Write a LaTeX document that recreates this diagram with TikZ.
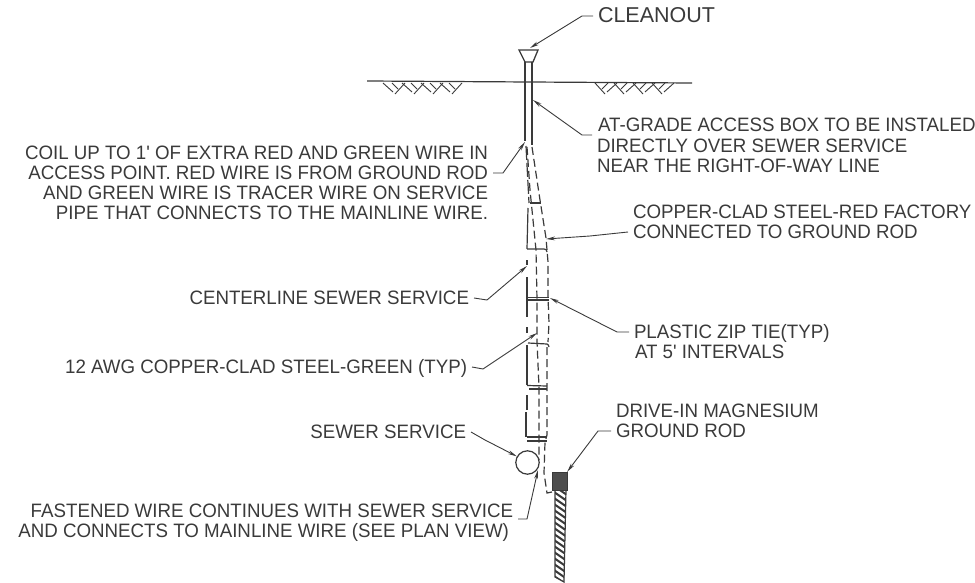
\documentclass[tikz,border=0pt]{standalone}
\usepackage{fontspec}
\newfontfamily\labfont[FakeStretch=0.965]{Liberation Sans}
\newfontfamily\bigfont{Liberation Sans}
\usetikzlibrary{arrows.meta}
\definecolor{ink}{HTML}{3A3A3A}
\tikzset{
  lab/.style={text=ink,font=\labfont\fontsize{19.4pt}{20pt}\selectfont,text height=13.4pt,text depth=0pt,inner xsep=5pt,inner ysep=0pt,outer sep=0pt},
  labw/.style={lab,anchor=west},
  labe/.style={lab,anchor=east},
  leader/.style={draw=ink,line width=0.9pt,-{Stealth[length=9pt,width=3.8pt]}},
  pipe/.style={draw=ink,line width=1.2pt},
  wire/.style={draw=ink,line width=1.2pt,dash pattern=on 8pt off 4pt},
  hatchline/.style={draw=ink,line width=0.9pt}
}
\begin{document}
\begin{tikzpicture}[x=1pt,y=-1pt]
\useasboundingbox (0,0) rectangle (975,583);
% labels
\node[labw,font=\bigfont\fontsize{21.5pt}{22pt}\selectfont] (clean) at (593,16) {CLEANOUT};
\node[labw] (at1) at (593,125) {AT-GRADE ACCESS BOX TO BE INSTALED};
\node[labw] (at2) at (592,146) {DIRECTLY OVER SEWER SERVICE};
\node[labw] (at3) at (592,166) {NEAR THE RIGHT-OF-WAY LINE};
\node[labw] (cu1) at (628,212) {COPPER-CLAD STEEL-RED FACTORY};
\node[labw] (cu2) at (628,232) {CONNECTED TO GROUND ROD};
\node[labw] (zip1) at (629,332) {PLASTIC ZIP TIE(TYP)};
\node[labw] (zip2) at (630,352) {AT 5' INTERVALS};
\node[labw] (dr1) at (611,411) {DRIVE-IN MAGNESIUM};
\node[labw] (dr2) at (611,431) {GROUND ROD};
\node[labe] (co1) at (493,153) {COIL UP TO 1' OF EXTRA RED AND GREEN WIRE IN};
\node[labe] (co2) at (493,173) {ACCESS POINT. RED WIRE IS FROM GROUND ROD};
\node[labe] (co3) at (493,193) {AND GREEN WIRE IS TRACER WIRE ON SERVICE};
\node[labe] (co4) at (493,213) {PIPE THAT CONNECTS TO THE MAINLINE WIRE.};
\node[labe] (cl) at (474,298) {CENTERLINE SEWER SERVICE};
\node[labe] (awg) at (472,367) {12 AWG COPPER-CLAD STEEL-GREEN (TYP)};
\node[labe] (ss) at (471,432) {SEWER SERVICE};
\node[labe] (fa1) at (518,511) {FASTENED WIRE CONTINUES WITH SEWER SERVICE};
\node[labe] (fa2) at (514,531) {AND CONNECTS TO MAINLINE WIRE (SEE PLAN VIEW)};
% ground
\coordinate (gl) at (367,81);
\coordinate (gr) at (692,83);
\draw[pipe] (gl) -- (gr);
\foreach \x in {383,402,421,440}{
  \draw[hatchline] (\x,83) -- (\x+10,92);
  \draw[hatchline] (\x+9,83) -- (\x+15,89);
  \draw[hatchline] (\x+12,94) -- (\x+22,83);
}
\foreach \x in {602,621,640,659}{
  \draw[hatchline] (\x+15,83) -- (\x+5,92);
  \draw[hatchline] (\x+6,83) -- (\x,89);
  \draw[hatchline] (\x+3,94) -- (\x-7,83);
}
% cleanout and riser
\draw[pipe,line width=1.3pt,fill=white] (519,50) -- (538,50) -- (533,62) -- (525,62) -- cycle;
\draw[pipe] (525,62) -- (525,141);
\draw[pipe] (532,62) -- (532,145);
% left pipe edge
\draw[pipe,dash pattern=on 14pt off 3pt] (526,146) -- (529,203);
\draw[pipe] (528,208) -- (527,249);
\draw[pipe] (527,260) -- (527,265);
\draw[pipe] (527,277) -- (527,317);
\draw[pipe] (527,327) -- (527,333);
\draw[pipe] (527,345) -- (527,385);
\draw[pipe] (527,395) -- (527,410);
\draw[pipe] (526,412) -- (526,437);
% zip ties
\draw[pipe] (530,203) -- (541,203);
\draw[pipe] (527,249) -- (544,249) .. controls (546,249) and (547,250) .. (547,252);
\draw[pipe] (527,297.5) -- (549,297.5);
\draw[pipe] (527,300) -- (549,300);
\draw[pipe] (528,343) -- (547,344) .. controls (548,345) and (549,345) .. (549,347);
\draw[pipe] (527,385.5) -- (547,386);
\draw[pipe] (529,389) -- (547,389);
\draw[pipe] (527,437) -- (547,437);
\draw[pipe] (527,441) -- (547,441);
% wires
\draw[wire] (527,147) -- (530,190) -- (536,250) -- (537,300) -- (537,342) -- (539,387) -- (539,440) -- (539,460);
\draw[wire] (532,147) -- (540,200) -- (546,238) -- (548,262) -- (548,297) -- (549,323) -- (548,342);
\draw[wire] (547,347) -- (547,387) -- (547,435) -- (545,442) -- (544,473) -- (547,493) -- (552,492);
% sewer
\node[circle,draw=ink,line width=1.2pt,minimum size=23.4pt,inner sep=0pt,fill=white] (sewer) at (527.5,462.5) {};
% rod
\draw[pipe,fill=white] (555,490) -- (566,490) -- (564,582) -- (555,577) -- cycle;
\begin{scope}
\clip (555,490) -- (566,490) -- (564,582) -- (555,577) -- cycle;
\foreach \y in {480,486,...,586}{
  \draw[draw=ink,line width=2pt] (554,\y) -- (567,\y+9);
}
\end{scope}
\node[draw=ink,fill=ink!90!white,minimum width=15pt,minimum height=18pt,inner sep=0pt] (rodhead) at (559.5,481) {};
% leader ends
\coordinate (atgj) at (592,135);
\coordinate (tipclean) at (530,48);
\coordinate (tipat) at (533,100);
\coordinate (tipcoil) at (525,142);
\coordinate (tipcu) at (546,239);
\coordinate (tipzip) at (550,298);
\coordinate (tipcl) at (527,266);
\coordinate (tipawg) at (537,333);
\coordinate (tipfa) at (538,470);
\draw[leader] (clean.west) -- (582,16) -- (tipclean);
\draw[leader] (atgj) -- (582,135) -- (tipat);
\draw[leader] (co2.east) -- (503,173) -- (tipcoil);
\draw[leader] (cu2.west) -- (590,236) -- (tipcu);
\draw[leader] (zip1.west) -- (617,332) -- (tipzip);
\draw[leader] (dr2.west) -- (598,431) -- (rodhead.north east);
\draw[leader] (cl.east) -- (487,300) -- (tipcl);
\draw[leader] (awg.east) -- (483,369) -- (tipawg);
\draw[leader] (ss.east) -- (485,440) -- (sewer.150);
\draw[leader] (fa1.east) ++(0,8) coordinate (fas) -- (527,519) -- (tipfa);
\end{tikzpicture}
\end{document}
